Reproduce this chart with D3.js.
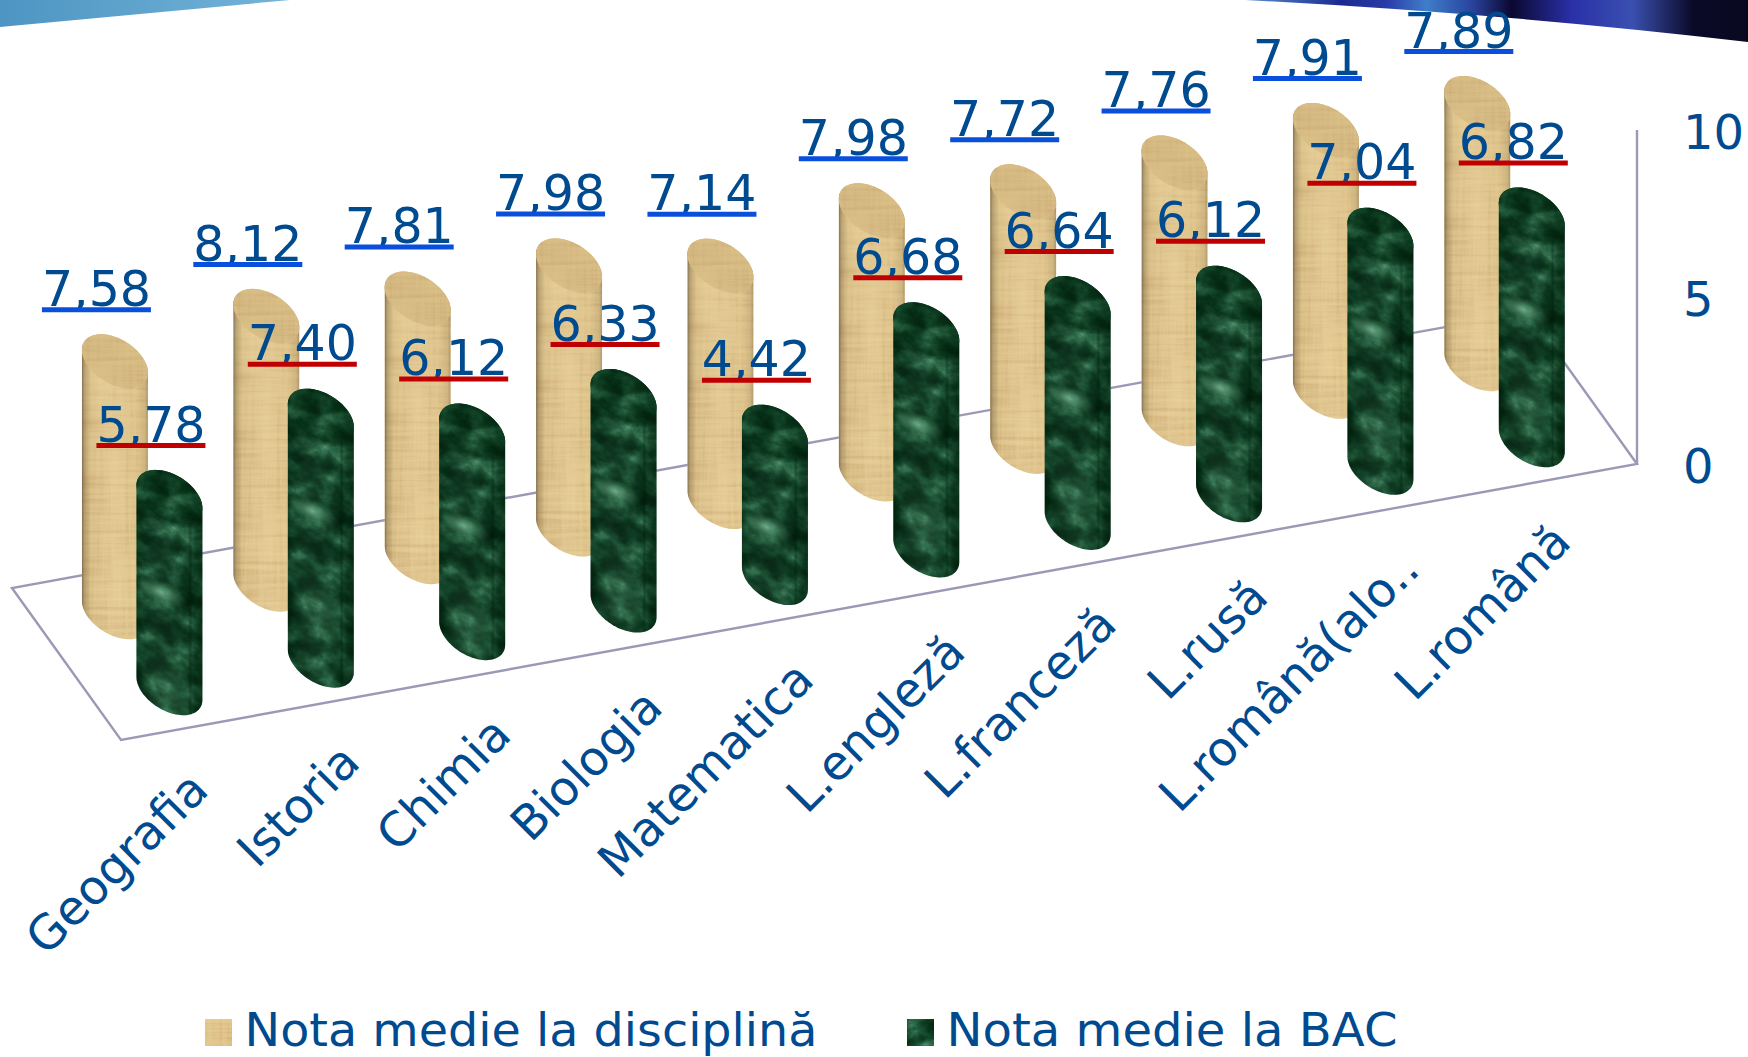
<!DOCTYPE html>
<html><head><meta charset="utf-8">
<script src="https://cdnjs.cloudflare.com/ajax/libs/d3/7.8.5/d3.min.js"></script>
<style>html,body{margin:0;padding:0;background:#fff;overflow:hidden}svg{display:block}text{font-family:"DejaVu Sans",sans-serif;fill:#004a8f}</style>
</head><body><svg id="c" width="1748" height="1057"></svg>
<script>
const categories=["Geografia","Istoria","Chimia","Biologia","Matematica","L.engleză","L.franceză","L.rusă","L.română(alo..","L.română"];
const notaDisciplina=[7.58,8.12,7.81,7.98,7.14,7.98,7.72,7.76,7.91,7.89];
const notaBAC=[5.78,7.40,6.12,6.33,4.42,6.68,6.64,6.12,7.04,6.82];
const valueTicks=[0,5,10];
const seriesNames=["Nota medie la disciplină","Nota medie la BAC"];

const svg=d3.select("#c");
const defs=svg.append("defs");
const O={x:121,y:740};
const xS=d3.scaleBand().domain(categories).range([0,.9985]);
const xVec={x:1516,y:-276},dVec={x:-109,y:-152};
const depth=d3.scalePoint().domain(["BAC","disc"]).range([.25,.75]);
const yS=d3.scaleLinear().domain([0,10]).range([0,331]);       // bars
const yAxisS=d3.scaleLinear().domain([0,10]).range([0,334]);   // back wall
const proj=(c,d,h)=>({x:O.x+c*xVec.x+d*dVec.x,y:O.y+c*xVec.y+d*dVec.y-h});
const rC=.1777,rD=.175;
const ax=rC*xVec.x/10,ay=rC*xVec.y/10,bx=rD*dVec.x,by=rD*dVec.y;
const t0=Math.atan2(bx,ax);
const ell=(c,t)=>({x:c.x+ax*Math.cos(t)+bx*Math.sin(t),y:c.y+ay*Math.cos(t)+by*Math.sin(t)});
const line=d3.line().x(d=>d.x).y(d=>d.y);
const ts=(a,b)=>d3.range(0,49).map(i=>a+(b-a)*i/48);
const lowerSign=ell({x:0,y:0},t0+Math.PI/2).y>0?1:-1;

function lg(id,stops){const g=defs.append("linearGradient").attr("id",id);stops.forEach(s=>g.append("stop").attr("offset",s[0]).attr("stop-color",s[1]).attr("stop-opacity",s[2]));}
lg("shadeTan",[[0,"#5f5036",.72],[.04,"#6b5a3c",.38],[.14,"#8a7550",.08],[.5,"#fff",.05],[.84,"#8a7550",.04],[.95,"#7a6844",.2],[1,"#6b5a3c",.42]]);
lg("shadeGreen",[[0,"#001a08",.4],[.08,"#001a08",.1],[.5,"#fff",.02],[.78,"#001a08",.06],[.815,"#001a08",.4],[.85,"#001a08",.1],[1,"#001a08",.4]]);
lg("hdrL",[[0,"#4d95c3",1],[1,"#74b4d8",1]]);
lg("hdrR",[[0,"#5a8fd0",1],[.19,"#1a2a90",1],[.28,"#2a3aa8",1],[.36,"#3f7ec8",1],[.45,"#2a44a0",1],[.53,"#0a0830",1],[.65,"#2a30a8",1],[.77,"#3a50b0",1],[.89,"#0a0a28",1],[1,"#080820",1]]);
const rg=defs.append("radialGradient").attr("id","spot");
rg.append("stop").attr("offset",0).attr("stop-color","#86c6a0").attr("stop-opacity",.7);
rg.append("stop").attr("offset",1).attr("stop-color","#4f9e70").attr("stop-opacity",0);

function tex(id,build){const f=defs.append("filter").attr("id",id).attr("x",0).attr("y",0).attr("width",1).attr("height",1).attr("color-interpolation-filters","sRGB");build(f);}
const ctf=(f,inp,r,g,b,res)=>{const c=f.append("feComponentTransfer").attr("in",inp).attr("result",res);
 [["feFuncR",r],["feFuncG",g],["feFuncB",b]].forEach(([n,v])=>c.append(n).attr("type","table").attr("tableValues",v));c.append("feFuncA").attr("type","linear").attr("slope",0).attr("intercept",1);};
const grey="1 0 0 0 0 1 0 0 0 0 1 0 0 0 0 0 0 0 0 1";
tex("wood",f=>{
 f.append("feTurbulence").attr("type","fractalNoise").attr("baseFrequency","0.012 0.22").attr("numOctaves",3).attr("seed",4).attr("result","h");
 f.append("feTurbulence").attr("type","fractalNoise").attr("baseFrequency","0.28 0.012").attr("numOctaves",2).attr("seed",9).attr("result","v");
 f.append("feTurbulence").attr("type","fractalNoise").attr("baseFrequency","0.02 0.02").attr("numOctaves",2).attr("seed",21).attr("result","l");
 f.append("feComposite").attr("in","h").attr("in2","v").attr("operator","arithmetic").attr("k2",.5).attr("k3",.3).attr("result","m");
 f.append("feComposite").attr("in","m").attr("in2","l").attr("operator","arithmetic").attr("k2",1).attr("k3",.2).attr("result","m2");
 f.append("feColorMatrix").attr("in","m2").attr("type","matrix").attr("values",grey).attr("result","g");
 ctf(f,"g",".78 .80 .83 .86 .885 .90 .915 .93 .95",".62 .65 .70 .74 .78 .80 .82 .85 .87",".38 .42 .47 .52 .56 .57 .61 .65 .68","out");
});
tex("marble",f=>{
 f.append("feTurbulence").attr("type","fractalNoise").attr("baseFrequency","0.04 0.055").attr("numOctaves",6).attr("seed",11).attr("result","n");
 f.append("feColorMatrix").attr("in","n").attr("type","matrix").attr("values",grey).attr("result","g");
 ctf(f,"g",".01 .01 .01 .02 .03 .05 .08 .12 .18 .27 .36 .5",".10 .12 .14 .16 .19 .23 .28 .34 .42 .52 .6 .7",".05 .05 .06 .08 .10 .13 .17 .22 .29 .38 .46 .58","out");
});

const bg=svg.append("g");
bg.append("path").attr("d","M0,0H290L0,27Z").attr("fill","url(#hdrL)");
bg.append("path").attr("d","M1245,0H1748V42Q1500,13 1245,0Z").attr("fill","url(#hdrR)");

const floor=svg.append("g").attr("fill","none").attr("stroke","#9a9ab6").attr("stroke-width",2.4);
const FL=proj(0,0,0),FR=proj(1,0,0),BL=proj(0,1,0),BR=proj(1,1,0);
floor.append("path").attr("d",line([BR,BL,FL,FR,BR]));
floor.append("path").attr("d",line([FR,proj(1,0,yAxisS(10))]));

const barsG=svg.append("g");
function texture(sel,kind,size){
 if(kind==="disc") sel.append("rect").attr("x",-40).attr("y",-40).attr("width",80).attr("height",size).attr("filter","url(#wood)");
 else sel.append("g").attr("transform","rotate(28)").append("rect").attr("x",-140).attr("y",-90).attr("width",340).attr("height",size+140).attr("filter","url(#marble)");
}
function drawBar(i,cat,val,kind){
 const cx=xS(cat)+xS.bandwidth()/2,d=depth(kind==="disc"?"disc":"BAC");
 const base=proj(cx,d,0),top=proj(cx,d,yS(val));
 const sgn=lowerSign;
 const body=[...ts(t0,t0+sgn*Math.PI).map(t=>ell(base,t)),...ts(t0+sgn*Math.PI,t0+2*sgn*Math.PI).map(t=>ell(top,t))];
 const cap=ts(0,2*Math.PI).map(t=>ell(top,t));
 const id=`clip-${kind}-${i}`;
 defs.append("clipPath").attr("id",id).append("path").attr("d",line(body)+"Z");
 const g=barsG.append("g");
 const clip=g.append("g").attr("clip-path",`url(#${id})`);
 const tg=clip.append("g").attr("transform",`translate(${top.x},${top.y})`);
 const bbH=yS(val)+90;
 texture(tg,kind,bbH);
 if(kind!=="disc"){
  tg.append("ellipse").attr("rx",30).attr("ry",11).attr("transform","translate(-9,95) rotate(24)").attr("fill","url(#spot)");
  tg.append("ellipse").attr("rx",30).attr("ry",44).attr("transform","translate(0,195) rotate(-22)").attr("fill","url(#spot)").attr("opacity",.22);
 }
 const ext=[ell(top,t0+Math.PI),ell(top,t0)];
 clip.append("rect").attr("x",ext[0].x).attr("y",top.y-40).attr("width",ext[1].x-ext[0].x).attr("height",bbH)
  .attr("fill",kind==="disc"?"url(#shadeTan)":"url(#shadeGreen)");
 const capId=`cap-${kind}-${i}`;
 defs.append("clipPath").attr("id",capId).append("path").attr("d",line(cap)+"Z");
 const c=g.append("g").attr("clip-path",`url(#${capId})`);
 texture(c.append("g").attr("transform",`translate(${top.x},${top.y})`),kind,90);
 g.append("path").attr("d",line(cap)+"Z").attr("fill",kind==="disc"?"#c2a56e":"#05260f").attr("fill-opacity",kind==="disc"?.34:.2);
 return top;
}
const tops=[];
categories.forEach((cat,i)=>{
 const a=drawBar(i,cat,notaDisciplina[i],"disc");
 const b=drawBar(i,cat,notaBAC[i],"bac");
 tops.push({a,b,i});
});

const fmt=v=>d3.format(".2f")(v).replace(".",",");
const lab=svg.append("g");
const VFS=49,UW=109;
function valueLabel(p,v,col){
 const x=p.x-18.5,y=p.y-51.5;
 lab.append("text").attr("x",x).attr("y",y-3.8).attr("text-anchor","middle").attr("font-size",VFS).text(fmt(v));
 lab.append("line").attr("x1",x-UW/2).attr("x2",x+UW/2).attr("y1",y).attr("y2",y).attr("stroke",col).attr("stroke-width",5);
}
tops.forEach(t=>valueLabel(t.a,notaDisciplina[t.i],"#0a4fdc"));
tops.forEach(t=>valueLabel(t.b,notaBAC[t.i],"#c00000"));

valueTicks.forEach(v=>{const p=proj(1,0,yAxisS(v));
 svg.append("text").attr("x",1683).attr("y",p.y+19).attr("font-size",48).text(v);});

categories.forEach(cat=>{const p=proj(xS(cat)+xS.bandwidth()/2,0,0);
 svg.append("text").attr("transform",`translate(${p.x+14},${p.y+66}) rotate(-45)`).attr("text-anchor","end").attr("font-size",47.5).text(cat);});

const lx=[205,907],tx=[244.5,946.5],tw=[573,451];
seriesNames.forEach((n,i)=>{
 const s=svg.append("g").attr("transform",`translate(${lx[i]},1019)`);
 s.append("svg").attr("width",27).attr("height",27).attr("viewBox","0 0 27 27").append("rect").attr("width",27).attr("height",27).attr("filter",i?"url(#marble)":"url(#wood)");
 svg.append("text").attr("x",tx[i]).attr("y",1046).attr("font-size",46.5).attr("textLength",tw[i]).attr("lengthAdjust","spacingAndGlyphs").text(n);
});
</script></body></html>
